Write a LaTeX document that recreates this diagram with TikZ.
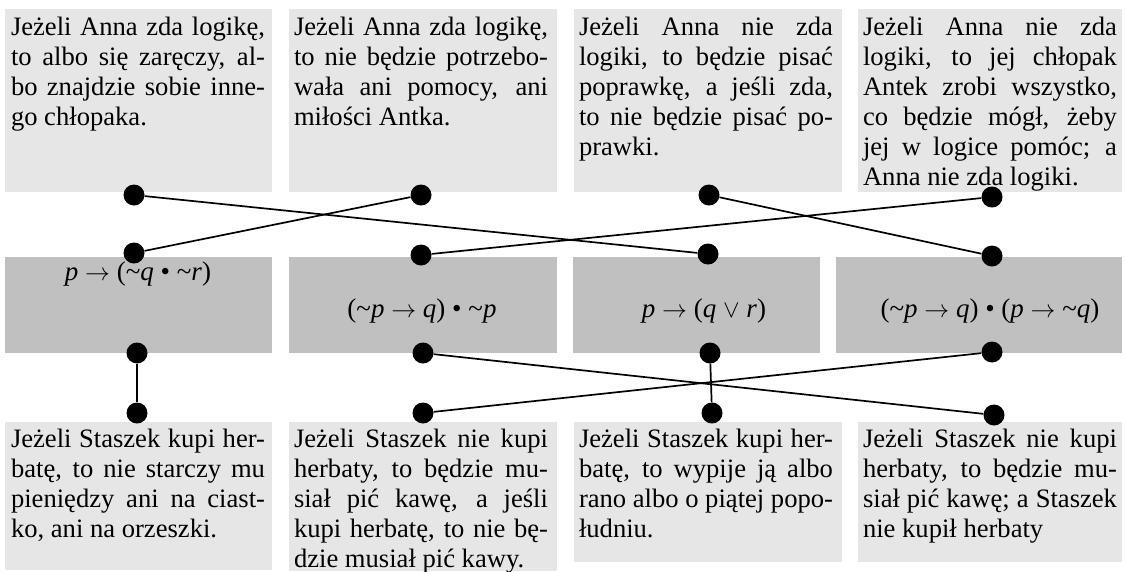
\documentclass[tikz,border=0pt]{standalone}
\usepackage{fontspec}
\setmainfont{Liberation Serif}
\definecolor{boxlight}{RGB}{230,230,230}
\definecolor{boxdark}{RGB}{192,192,192}
\newcommand\jline[1]{\hbox to 254pt{\strut #1}}
\newcommand\lline[1]{\hbox{\strut #1}}
\newcommand\arr{$\rightarrow$}
\tikzset{
  lightbox/.style={draw=none, fill=boxlight, inner sep=0pt, outer sep=0pt, anchor=north west},
  darkbox/.style={draw=none, fill=boxdark, inner sep=0pt, outer sep=0pt, anchor=north west},
  txt/.style={inner sep=0pt, outer sep=0pt, anchor=north west, font=\fontsize{26.6pt}{30pt}\selectfont},
  formula/.style={inner sep=0pt, anchor=base, font=\fontsize{27pt}{30pt}\selectfont},
  dot/.style={circle, fill=black, inner sep=0pt, minimum size=21pt},
  link/.style={line width=1.7pt, draw=black},
}
\begin{document}
\begin{tikzpicture}[x=1pt, y=-1pt]
\useasboundingbox (0,0) rectangle (1125,571);
\fill[white] (0,0) rectangle (1125,571);
% top boxes
\node[lightbox, minimum width=267pt, minimum height=183pt] (t1) at (5,9) {};
\node[lightbox, minimum width=268pt, minimum height=183pt] (t2) at (289,9) {};
\node[lightbox, minimum width=268pt, minimum height=183pt] (t3) at (574,9) {};
\node[lightbox, minimum width=264pt, minimum height=183pt] (t4) at (858,9) {};
% middle boxes
\node[darkbox, minimum width=267pt, minimum height=96pt] (m1) at (5,257) {};
\node[darkbox, minimum width=268pt, minimum height=96pt] (m2) at (289,257) {};
\node[darkbox, minimum width=247pt, minimum height=96pt] (m3) at (573,257) {};
\node[darkbox, minimum width=286pt, minimum height=96pt] (m4) at (836,257) {};
% bottom boxes
\node[lightbox, minimum width=267pt, minimum height=148pt] (u1) at (5,422) {};
\node[lightbox, minimum width=268pt, minimum height=149pt] (u2) at (289,422) {};
\node[lightbox, minimum width=268pt, minimum height=140pt] (u3) at (574,422) {};
\node[lightbox, minimum width=264pt, minimum height=140pt] (u4) at (858,422) {};
% top texts
\node[txt] (t1x) at (11,14) {\vbox{%
\jline{Jeżeli Anna zda logikę,}
\jline{to albo się zaręczy, al-}
\jline{bo znajdzie sobie inne-}
\lline{go chłopaka.}}};
\node[txt] (t2x) at (294,14) {\vbox{%
\jline{Jeżeli Anna zda logikę,}
\jline{to nie będzie potrzebo-}
\jline{wała ani pomocy, ani}
\lline{miłości Antka.}}};
\node[txt] (t3x) at (579,14) {\vbox{%
\jline{Jeżeli Anna nie zda}
\jline{logiki, to będzie pisać}
\jline{poprawkę, a jeśli zda,}
\jline{to nie będzie pisać po-}
\lline{prawki.}}};
\node[txt] (t4x) at (863,14) {\vbox{%
\jline{Jeżeli Anna nie zda}
\jline{logiki, to jej chłopak}
\jline{Antek zrobi wszystko,}
\jline{co będzie mógł, żeby}
\jline{jej w logice pomóc; a}
\lline{Anna nie zda logiki.}}};
% bottom texts
\node[txt] (u1x) at (11,426) {\vbox{%
\jline{Jeżeli Staszek kupi her-}
\jline{batę, to nie starczy mu}
\jline{pieniędzy ani na ciast-}
\lline{ko, ani na orzeszki.}}};
\node[txt] (u2x) at (294,426) {\vbox{%
\jline{Jeżeli Staszek nie kupi}
\jline{herbaty, to będzie mu-}
\jline{siał pić kawę, a jeśli}
\jline{kupi herbatę, to nie bę-}
\lline{dzie musiał pić kawy.}}};
\node[txt] (u3x) at (579,426) {\vbox{%
\jline{Jeżeli Staszek kupi her-}
\jline{batę, to wypije ją albo}
\jline{rano albo o piątej popo-}
\lline{łudniu.}}};
\node[txt] (u4x) at (863,426) {\vbox{%
\jline{Jeżeli Staszek nie kupi}
\jline{herbaty, to będzie mu-}
\jline{siał pić kawę; a Staszek}
\lline{nie kupił herbaty}}};
% formulas
\node[formula] (f1) at (138,280) {\textit{p} \arr{} (\textasciitilde\textit{q} • \textasciitilde\textit{r})};
\node[formula] (f2) at (422,317) {(\textasciitilde\textit{p} \arr{} \textit{q}) • \textasciitilde\textit{p}};
\node[formula] (f3) at (704,317) {\textit{p} \arr{} (\textit{q} $\vee$ \textit{r})};
\node[formula] (f4) at (990,317) {(\textasciitilde\textit{p} \arr{} \textit{q}) • (\textit{p} \arr{} \textasciitilde\textit{q})};
% dots
\node[dot] (a1) at (134,195) {};
\node[dot] (a2) at (421,195) {};
\node[dot] (a3) at (709,195) {};
\node[dot] (a4) at (992,197) {};
\node[dot] (b1) at (134,253) {};
\node[dot] (b2) at (421,255) {};
\node[dot] (b3) at (708,254) {};
\node[dot] (b4) at (992,256) {};
\node[dot] (c1) at (137,353) {};
\node[dot] (c2) at (423,353) {};
\node[dot] (c3) at (710,353) {};
\node[dot] (c4) at (992,352) {};
\node[dot] (d1) at (137,413) {};
\node[dot] (d2) at (423,413) {};
\node[dot] (d3) at (712,413) {};
\node[dot] (d4) at (994,415) {};
% connectors
\draw[link] (a1) -- (b3);
\draw[link] (a2) -- (b1);
\draw[link] (a3) -- (b4);
\draw[link] (a4) -- (b2);
\draw[link] (c1) -- (d1);
\draw[link] (c2) -- (d4);
\draw[link] (c3) -- (d3);
\draw[link] (c4) -- (d2);
\end{tikzpicture}
\end{document}
